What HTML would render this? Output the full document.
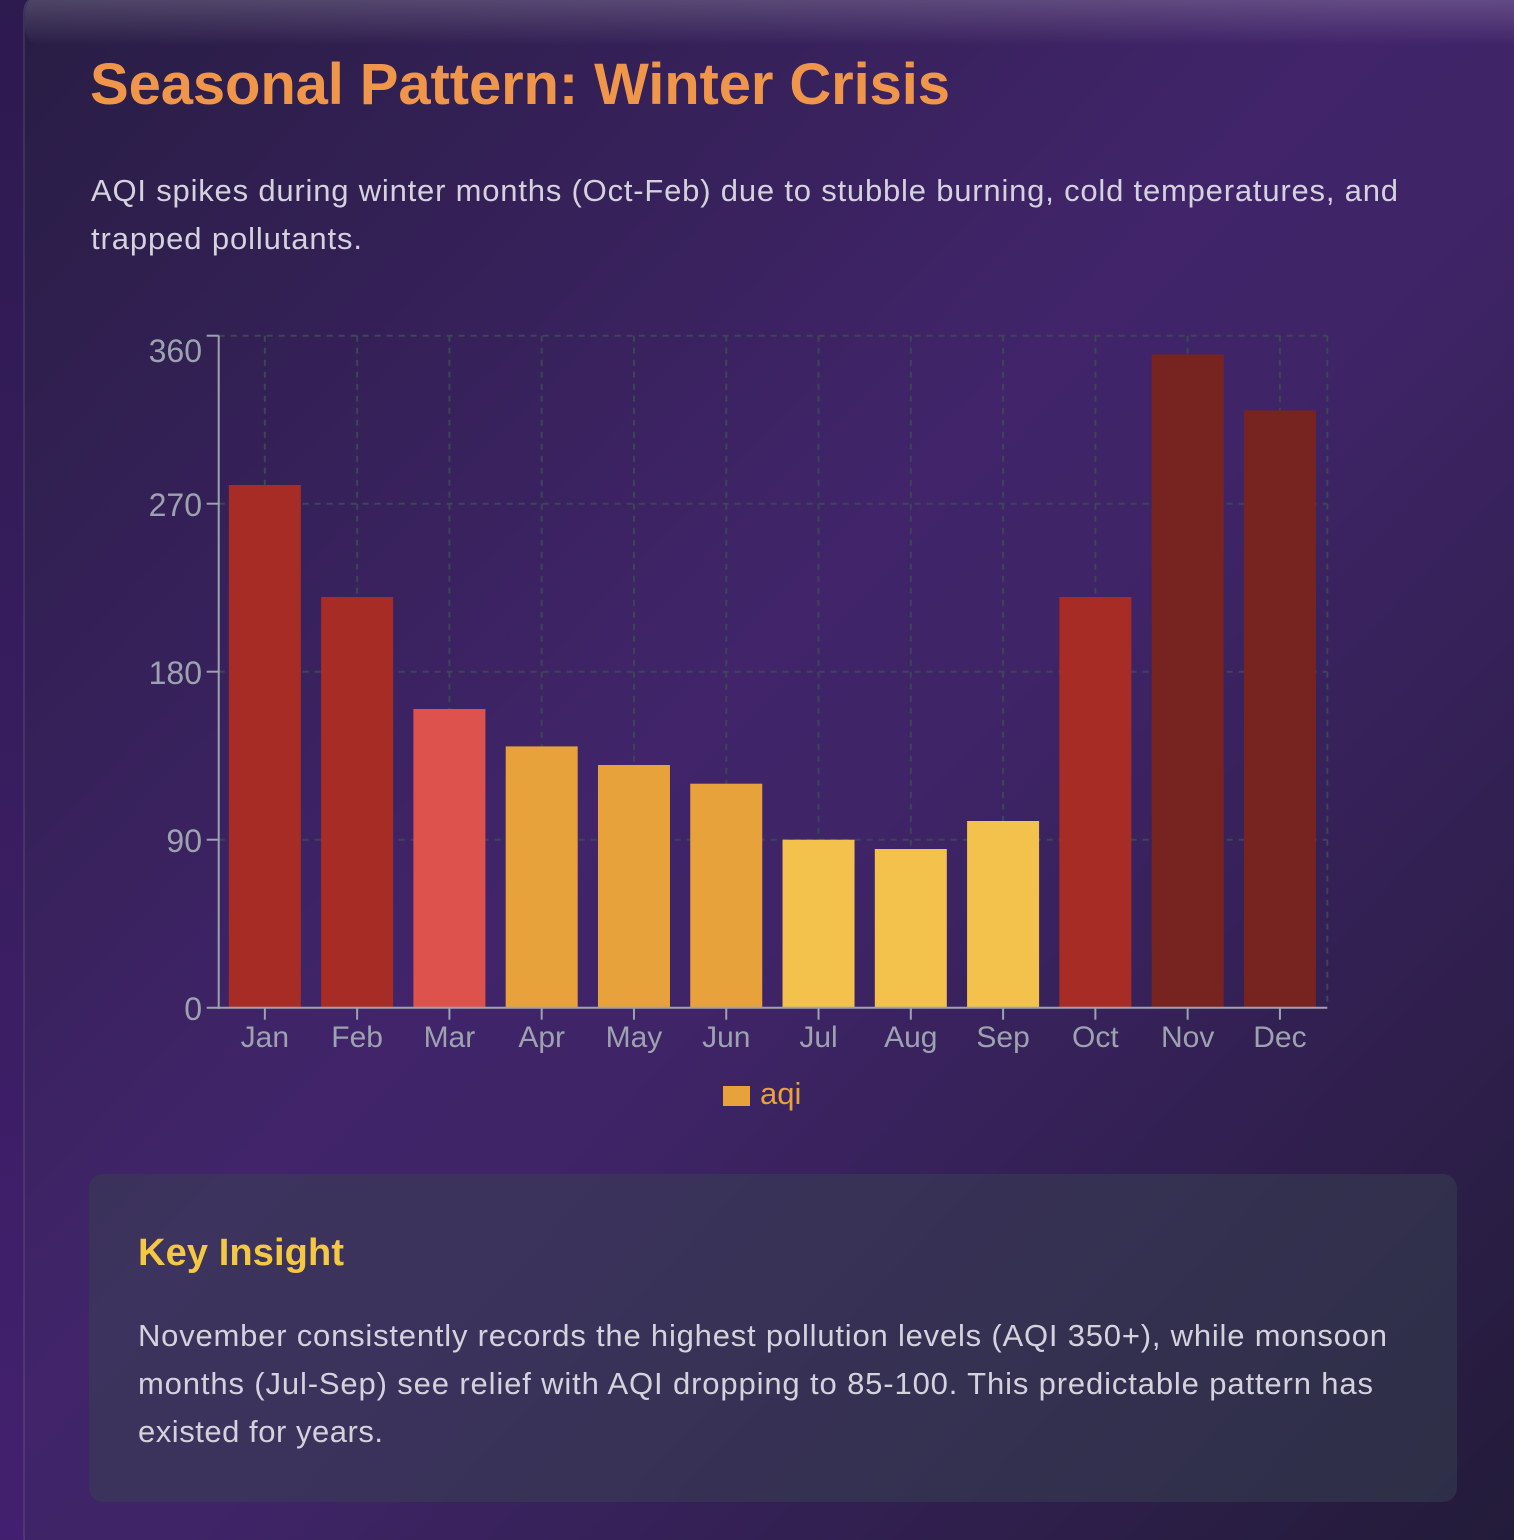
<!DOCTYPE html>
<html><head><meta charset="utf-8"><style>
html,body{margin:0;padding:0;width:1514px;height:1540px;overflow:hidden;background:#2f1b52;}
svg{display:block}
text{font-family:"Liberation Sans",sans-serif;}
</style></head><body>
<svg width="1514" height="1540" viewBox="0 0 1514 1540" xmlns="http://www.w3.org/2000/svg">
<defs>
<linearGradient id="pg" x1="0" y1="0" x2="0" y2="1">
<stop offset="0" stop-color="#2d1a4f"/><stop offset="1" stop-color="#43206f"/>
</linearGradient>
<linearGradient id="cg" x1="0" y1="0" x2="1" y2="1" gradientUnits="objectBoundingBox">
<stop offset="0" stop-color="#281d44"/>
<stop offset="0.45" stop-color="#41246a"/>
<stop offset="0.55" stop-color="#3f2467"/>
<stop offset="1" stop-color="#221b38"/>
</linearGradient>
<linearGradient id="hl" x1="0" y1="0" x2="0" y2="1">
<stop offset="0" stop-color="#ffffff" stop-opacity="0.2"/>
<stop offset="1" stop-color="#ffffff" stop-opacity="0"/>
</linearGradient>
</defs>
<rect x="0" y="0" width="1514" height="1540" fill="url(#pg)"/>
<rect x="24" y="-6" width="1510" height="1560" rx="18" fill="url(#cg)" stroke="rgba(255,255,255,0.12)" stroke-width="1.5"/>
<rect x="25" y="-6" width="1500" height="52" rx="18" fill="url(#hl)"/>

<text x="90" y="104" font-size="58" font-weight="bold" fill="#f0964a" textLength="860">Seasonal Pattern: Winter Crisis</text>
<text x="91" y="201" font-size="31" fill="#d4d2dc" textLength="1307">AQI spikes during winter months (Oct-Feb) due to stubble burning, cold temperatures, and</text>
<text x="91" y="249" font-size="31" fill="#d4d2dc" textLength="271">trapped pollutants.</text>

<!-- grid -->
<g stroke="#3a4754" stroke-width="2" stroke-dasharray="6 6" fill="none">
<line x1="218.7" y1="335.7" x2="1327.3" y2="335.7"/>
<line x1="218.7" y1="503.7" x2="1327.3" y2="503.7"/>
<line x1="218.7" y1="671.7" x2="1327.3" y2="671.7"/>
<line x1="218.7" y1="839.7" x2="1327.3" y2="839.7"/>
<line x1="264.85" y1="335.7" x2="264.85" y2="1007.7"/>
<line x1="357.13" y1="335.7" x2="357.13" y2="1007.7"/>
<line x1="449.41" y1="335.7" x2="449.41" y2="1007.7"/>
<line x1="541.69" y1="335.7" x2="541.69" y2="1007.7"/>
<line x1="633.97" y1="335.7" x2="633.97" y2="1007.7"/>
<line x1="726.25" y1="335.7" x2="726.25" y2="1007.7"/>
<line x1="818.53" y1="335.7" x2="818.53" y2="1007.7"/>
<line x1="910.81" y1="335.7" x2="910.81" y2="1007.7"/>
<line x1="1003.09" y1="335.7" x2="1003.09" y2="1007.7"/>
<line x1="1095.37" y1="335.7" x2="1095.37" y2="1007.7"/>
<line x1="1187.65" y1="335.7" x2="1187.65" y2="1007.7"/>
<line x1="1279.93" y1="335.7" x2="1279.93" y2="1007.7"/>
<line x1="1327.3" y1="335.7" x2="1327.3" y2="1007.7"/>
</g>

<!-- bars -->
<rect x="228.85" y="485.0" width="72" height="522.7" fill="#a82c26"/>
<rect x="321.13" y="597.0" width="72" height="410.7" fill="#a82c26"/>
<rect x="413.41" y="709.0" width="72" height="298.7" fill="#de524d"/>
<rect x="505.69" y="746.4" width="72" height="261.3" fill="#e8a23b"/>
<rect x="597.97" y="765.0" width="72" height="242.7" fill="#e8a23b"/>
<rect x="690.25" y="783.7" width="72" height="224.0" fill="#e8a23b"/>
<rect x="782.53" y="839.7" width="72" height="168.0" fill="#f2c24d"/>
<rect x="874.81" y="849.0" width="72" height="158.7" fill="#f2c24d"/>
<rect x="967.09" y="821.0" width="72" height="186.7" fill="#f2c24d"/>
<rect x="1059.37" y="597.0" width="72" height="410.7" fill="#a82c26"/>
<rect x="1151.65" y="354.4" width="72" height="653.3" fill="#772421"/>
<rect x="1243.93" y="410.4" width="72" height="597.3" fill="#772421"/>

<!-- axes -->
<g stroke="#9ca3af" stroke-width="2" fill="none">
<line x1="218.7" y1="335.7" x2="218.7" y2="1008.7"/>
<line x1="206.7" y1="1007.7" x2="1327.3" y2="1007.7"/>
<line x1="206.7" y1="335.7" x2="218.7" y2="335.7"/>
<line x1="206.7" y1="503.7" x2="218.7" y2="503.7"/>
<line x1="206.7" y1="671.7" x2="218.7" y2="671.7"/>
<line x1="206.7" y1="839.7" x2="218.7" y2="839.7"/>
<line x1="264.85" y1="1007.7" x2="264.85" y2="1019.7"/>
<line x1="357.13" y1="1007.7" x2="357.13" y2="1019.7"/>
<line x1="449.41" y1="1007.7" x2="449.41" y2="1019.7"/>
<line x1="541.69" y1="1007.7" x2="541.69" y2="1019.7"/>
<line x1="633.97" y1="1007.7" x2="633.97" y2="1019.7"/>
<line x1="726.25" y1="1007.7" x2="726.25" y2="1019.7"/>
<line x1="818.53" y1="1007.7" x2="818.53" y2="1019.7"/>
<line x1="910.81" y1="1007.7" x2="910.81" y2="1019.7"/>
<line x1="1003.09" y1="1007.7" x2="1003.09" y2="1019.7"/>
<line x1="1095.37" y1="1007.7" x2="1095.37" y2="1019.7"/>
<line x1="1187.65" y1="1007.7" x2="1187.65" y2="1019.7"/>
<line x1="1279.93" y1="1007.7" x2="1279.93" y2="1019.7"/>
</g>

<g font-size="32" fill="#9ca3af" text-anchor="end">
<text x="202" y="362">360</text>
<text x="202" y="516">270</text>
<text x="202" y="684">180</text>
<text x="202" y="852">90</text>
<text x="202" y="1020">0</text>
</g>
<g font-size="30" fill="#9ca3af" text-anchor="middle">
<text x="264.85" y="1047">Jan</text>
<text x="357.13" y="1047">Feb</text>
<text x="449.41" y="1047">Mar</text>
<text x="541.69" y="1047">Apr</text>
<text x="633.97" y="1047">May</text>
<text x="726.25" y="1047">Jun</text>
<text x="818.53" y="1047">Jul</text>
<text x="910.81" y="1047">Aug</text>
<text x="1003.09" y="1047">Sep</text>
<text x="1095.37" y="1047">Oct</text>
<text x="1187.65" y="1047">Nov</text>
<text x="1279.93" y="1047">Dec</text>
</g>

<rect x="723" y="1086" width="27" height="20" fill="#e8a23b"/>
<text x="760" y="1104" font-size="31" fill="#e8a23b">aqi</text>

<!-- insight box -->
<rect x="89" y="1174" width="1368" height="328" rx="14" fill="rgba(55,65,81,0.5)"/>
<text x="138" y="1265" font-size="38" font-weight="bold" fill="#f4c843" textLength="206">Key Insight</text>
<g font-size="31" fill="#d4d2dc">
<text x="138" y="1346" textLength="1249">November consistently records the highest pollution levels (AQI 350+), while monsoon</text>
<text x="138" y="1394" textLength="1235">months (Jul-Sep) see relief with AQI dropping to 85-100. This predictable pattern has</text>
<text x="138" y="1442" textLength="245">existed for years.</text>
</g>
</svg>
</body></html>
